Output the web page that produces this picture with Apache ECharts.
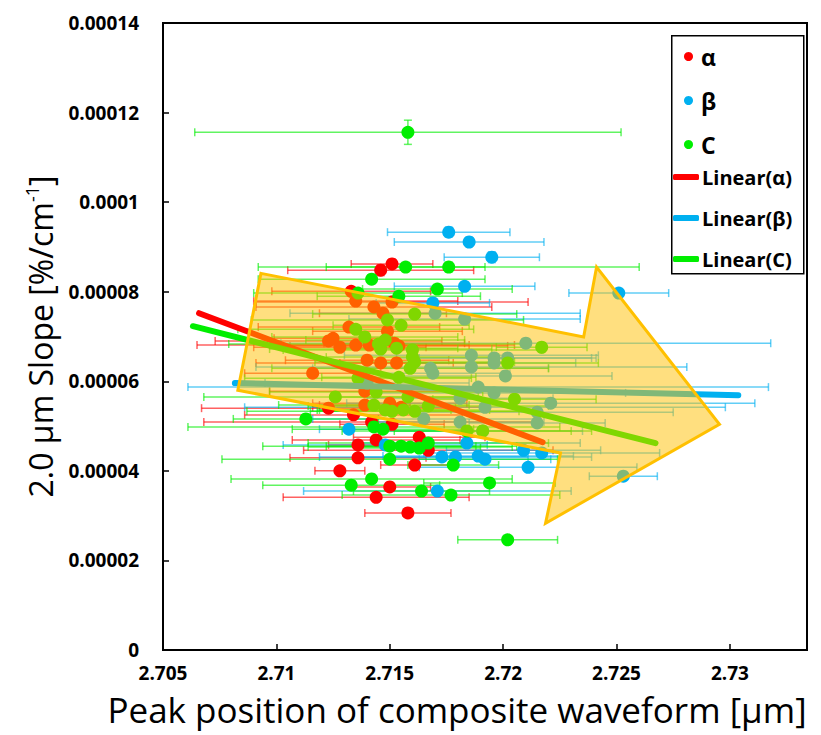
<!DOCTYPE html>
<html>
<head>
<meta charset="utf-8">
<script src="https://cdn.jsdelivr.net/npm/echarts@6/dist/echarts.min.js"></script>
<style>
  html, body { margin: 0; padding: 0; background: #ffffff; }
  #chart { width: 821px; height: 735px; }
</style>
</head>
<body>
<div id="chart"></div>
<script>
// ---- axis ticks ----
const xTickLabels = ['2.705', '2.71', '2.715', '2.72', '2.725', '2.73'];
const yTickLabels = ['0', '0.00002', '0.00004', '0.00006', '0.00008', '0.0001', '0.00012', '0.00014'];

// ---- α : peak position [μm], slope [%/cm^-1], horizontal / vertical error ----
const alphaX = [2.7146, 2.7151, 2.7133, 2.7134, 2.7123, 2.7142, 2.7151, 2.7144, 2.7163, 2.7136,
  2.7167, 2.7136, 2.7161, 2.7128, 2.7150, 2.7144, 2.7158, 2.7135, 2.7143, 2.7147,
  2.7151, 2.7132, 2.7149, 2.7123, 2.7125, 2.7128, 2.7135, 2.7141, 2.7152, 2.7154,
  2.7140, 2.7146, 2.7153, 2.7116, 2.7139, 2.7139, 2.7150, 2.7155];
const alphaY = [8.48e-5, 8.62e-5, 8.01e-5, 5.25e-5, 5.40e-5, 5.09e-5, 5.04e-5, 4.69e-5, 4.75e-5, 4.58e-5,
  4.46e-5, 4.29e-5, 4.13e-5, 4.00e-5, 3.64e-5, 3.41e-5, 3.06e-5, 7.79e-5, 7.66e-5, 7.52e-5,
  7.77e-5, 7.21e-5, 7.12e-5, 6.90e-5, 6.96e-5, 6.76e-5, 6.81e-5, 6.81e-5, 6.85e-5, 6.79e-5,
  6.47e-5, 6.41e-5, 6.41e-5, 6.18e-5, 5.78e-5, 5.47e-5, 5.51e-5, 5.42e-5];
const alphaXErr = [0.0041, 0.0018, 0.0035, 0.0048, 0.0056, 0.0074, 0.0023, 0.0037, 0.0029, 0.0013,
  0.0055, 0.0030, 0.0015, 0.0011, 0.0018, 0.0041, 0.0019, 0.0045, 0.0052, 0.0028,
  0.0060, 0.0040, 0.0033, 0.0050, 0.0026, 0.0038, 0.0070, 0.0044, 0.0031, 0.0048,
  0.0036, 0.0055, 0.0025, 0.0030, 0.0042, 0.0020, 0.0034, 0.0039];
const alphaYErr = [1.2e-6, 1.0e-6, 1.0e-6, 0.9e-6, 0.8e-6, 0.9e-6, 1.0e-6, 0.8e-6, 0.9e-6, 0.8e-6,
  0.9e-6, 0.8e-6, 0.9e-6, 0.8e-6, 0.8e-6, 0.9e-6, 0.8e-6, 1.0e-6, 0.9e-6, 0.9e-6,
  1.0e-6, 0.9e-6, 0.9e-6, 0.8e-6, 0.8e-6, 0.9e-6, 0.8e-6, 0.8e-6, 0.9e-6, 0.8e-6,
  0.9e-6, 0.8e-6, 0.8e-6, 0.8e-6, 0.9e-6, 0.8e-6, 0.8e-6, 0.8e-6];

// ---- β ----
const betaX = [2.7176, 2.7185, 2.7195, 2.7183, 2.7169, 2.7251, 2.7132, 2.7148, 2.7184, 2.7173,
  2.7179, 2.7189, 2.7192, 2.7209, 2.7217, 2.7211, 2.7171, 2.7253, 2.7170, 2.7183,
  2.7210, 2.7186, 2.7196, 2.7196, 2.7202, 2.7186, 2.7201, 2.7168, 2.7169, 2.7189,
  2.7140, 2.7196, 2.7181, 2.7221, 2.7192, 2.7215, 2.7165, 2.7181, 2.7215, 2.7191];
const betaY = [9.33e-5, 9.11e-5, 8.77e-5, 8.12e-5, 7.75e-5, 7.97e-5, 4.93e-5, 4.58e-5, 4.62e-5, 4.31e-5,
  4.31e-5, 4.33e-5, 4.26e-5, 4.46e-5, 4.40e-5, 4.08e-5, 3.55e-5, 3.88e-5, 7.52e-5, 7.39e-5,
  6.85e-5, 6.58e-5, 6.52e-5, 6.41e-5, 6.52e-5, 6.32e-5, 6.12e-5, 6.29e-5, 6.18e-5, 5.87e-5,
  5.96e-5, 5.74e-5, 5.62e-5, 5.51e-5, 5.42e-5, 5.31e-5, 5.16e-5, 5.09e-5, 5.07e-5, 4.89e-5];
const betaXErr = [0.0027, 0.0033, 0.0021, 0.0031, 0.0025, 0.0022, 0.0013, 0.0045, 0.0050, 0.0038,
  0.0060, 0.0042, 0.0029, 0.0034, 0.0052, 0.0048, 0.0059, 0.0015, 0.0064, 0.0051,
  0.0108, 0.0056, 0.0043, 0.0036, 0.0039, 0.0095, 0.0047, 0.0052, 0.0034, 0.0128,
  0.0045, 0.0058, 0.0041, 0.0090, 0.0106, 0.0060, 0.0049, 0.0037, 0.0030, 0.0044];
const betaYErr = [1.1e-6, 1.0e-6, 1.2e-6, 1.0e-6, 0.9e-6, 1.0e-6, 0.8e-6, 0.8e-6, 0.9e-6, 0.8e-6,
  0.8e-6, 0.8e-6, 0.8e-6, 0.9e-6, 0.8e-6, 0.8e-6, 0.8e-6, 0.8e-6, 1.0e-6, 1.1e-6,
  1.0e-6, 0.9e-6, 0.9e-6, 0.9e-6, 0.9e-6, 0.8e-6, 1.0e-6, 0.9e-6, 0.9e-6, 0.9e-6,
  0.9e-6, 0.9e-6, 0.9e-6, 0.9e-6, 0.8e-6, 0.9e-6, 0.8e-6, 0.9e-6, 1.0e-6, 0.8e-6];

// ---- C ----
const cX = [2.7158, 2.7157, 2.7176, 2.7142, 2.7171, 2.7136, 2.7154, 2.7113, 2.7143, 2.7147,
  2.7150, 2.7155, 2.7159, 2.7163, 2.7167, 2.7150, 2.7178, 2.7142, 2.7194, 2.7133,
  2.7164, 2.7177, 2.7202, 2.7161, 2.7149, 2.7155, 2.7135, 2.7139, 2.7145, 2.7148,
  2.7146, 2.7153, 2.7160, 2.7160, 2.7161, 2.7217, 2.7202, 2.7159, 2.7136, 2.7154,
  2.7144, 2.7126, 2.7158, 2.7205, 2.7143, 2.7167, 2.7148, 2.7151, 2.7156, 2.7161,
  2.7184, 2.7191];
const cY = [11.56e-5, 8.55e-5, 8.55e-5, 8.28e-5, 8.06e-5, 7.97e-5, 7.90e-5, 5.16e-5, 4.98e-5, 4.93e-5,
  4.55e-5, 4.55e-5, 4.53e-5, 4.51e-5, 4.62e-5, 4.26e-5, 4.13e-5, 3.82e-5, 3.73e-5, 3.68e-5,
  3.55e-5, 3.46e-5, 2.46e-5, 7.50e-5, 7.37e-5, 7.25e-5, 7.16e-5, 6.99e-5, 6.83e-5, 6.92e-5,
  6.72e-5, 6.74e-5, 6.70e-5, 6.54e-5, 6.43e-5, 6.76e-5, 6.41e-5, 6.29e-5, 6.07e-5, 6.09e-5,
  5.76e-5, 5.65e-5, 5.65e-5, 5.60e-5, 5.47e-5, 5.45e-5, 5.36e-5, 5.33e-5, 5.36e-5, 5.33e-5,
  4.89e-5, 4.89e-5];
const cXErr = [0.0094, 0.0035, 0.0084, 0.0050, 0.0033, 0.0046, 0.0036, 0.0032, 0.0082, 0.0040,
  0.0056, 0.0033, 0.0045, 0.0027, 0.0053, 0.0074, 0.0020, 0.0062, 0.0029, 0.0039,
  0.0030, 0.0048, 0.0022, 0.0045, 0.0060, 0.0030, 0.0052, 0.0041, 0.0066, 0.0035,
  0.0049, 0.0027, 0.0057, 0.0038, 0.0044, 0.0020, 0.0040, 0.0061, 0.0050, 0.0034,
  0.0047, 0.0058, 0.0031, 0.0036, 0.0042, 0.0053, 0.0029, 0.0064, 0.0038, 0.0046,
  0.0055, 0.0039];
const cYErr = [2.7e-6, 1.0e-6, 1.1e-6, 1.0e-6, 1.0e-6, 0.9e-6, 0.9e-6, 0.8e-6, 0.9e-6, 0.9e-6,
  0.8e-6, 0.8e-6, 0.8e-6, 0.8e-6, 1.1e-6, 0.8e-6, 0.9e-6, 0.8e-6, 0.9e-6, 1.0e-6,
  0.9e-6, 1.0e-6, 0.9e-6, 0.9e-6, 0.9e-6, 0.9e-6, 0.9e-6, 0.9e-6, 0.9e-6, 0.9e-6,
  0.9e-6, 0.9e-6, 0.9e-6, 0.9e-6, 0.9e-6, 1.0e-6, 0.9e-6, 0.9e-6, 0.9e-6, 0.9e-6,
  0.9e-6, 0.9e-6, 0.9e-6, 0.9e-6, 0.9e-6, 0.9e-6, 0.9e-6, 0.9e-6, 0.9e-6, 0.9e-6,
  0.9e-6, 0.9e-6];

// ---- least-squares trend lines (end points) ----
const linAlphaX = [2.70659, 2.72174];
const linAlphaY = [7.52e-5, 4.64e-5];
const linBetaX = [2.70817, 2.73037];
const linBetaY = [5.96e-5, 5.69e-5];
const linCX = [2.70632, 2.72672];
const linCY = [7.23e-5, 4.62e-5];

// ---- highlight arrow outline (data coordinates) ----
const arrowX = [2.70932, 2.72355, 2.72412, 2.72954, 2.72187, 2.72253, 2.70830];
const arrowY = [8.41e-5, 6.99e-5, 8.55e-5, 5.04e-5, 2.83e-5, 4.40e-5, 5.80e-5];

const X_MIN = 2.705, X_STEP = 0.005, X_MAX = 2.7334;
const Y_MIN = 0, Y_STEP = 0.00002, Y_MAX = 0.00014;

const RED = '#ff0000', BLUE = '#00b0f0', GREEN = '#00ee00';
const FONT = "'Open Sans', 'Noto Sans', sans-serif";

function pairs(xs, ys) { return xs.map((x, i) => [x, ys[i]]); }

function errorBars(name, xs, ys, xe, ye, color) {
  return {
    type: 'custom', name: name, silent: true, z: 2,
    data: xs.map((x, i) => [x, ys[i], xe[i], ye[i]]),
    encode: { x: 0, y: 1 },
    renderItem: function (params, api) {
      const x = api.value(0), y = api.value(1), dx = api.value(2), dy = api.value(3);
      const l = api.coord([x - dx, y]), r = api.coord([x + dx, y]);
      const t = api.coord([x, y + dy]), b = api.coord([x, y - dy]);
      const cap = 4;
      const st = () => ({ stroke: color, lineWidth: 1.5, opacity: 0.62 });
      return {
        type: 'group',
        children: [
          { type: 'line', shape: { x1: l[0], y1: l[1], x2: r[0], y2: r[1] }, style: st() },
          { type: 'line', shape: { x1: l[0], y1: l[1] - cap, x2: l[0], y2: l[1] + cap }, style: st() },
          { type: 'line', shape: { x1: r[0], y1: r[1] - cap, x2: r[0], y2: r[1] + cap }, style: st() },
          { type: 'line', shape: { x1: t[0], y1: t[1], x2: b[0], y2: b[1] }, style: st() },
          { type: 'line', shape: { x1: t[0] - cap, y1: t[1], x2: t[0] + cap, y2: t[1] }, style: st() },
          { type: 'line', shape: { x1: b[0] - cap, y1: b[1], x2: b[0] + cap, y2: b[1] }, style: st() }
        ]
      };
    }
  };
}

function points(name, xs, ys, color) {
  return {
    type: 'scatter', name: name, z: 3, symbol: 'circle', symbolSize: 13,
    itemStyle: { color: color, opacity: 1 },
    data: pairs(xs, ys)
  };
}

function trend(name, xs, ys, color) {
  return {
    type: 'line', name: name, z: 5, symbol: 'none', showSymbol: false,
    lineStyle: { color: color, width: 6, cap: 'round' },
    itemStyle: { color: color },
    data: pairs(xs, ys)
  };
}

const chart = echarts.init(document.getElementById('chart'), null, { renderer: 'svg' });

chart.setOption({
  animation: false,
  backgroundColor: '#ffffff',
  grid: { left: 163, right: 14, top: 23, bottom: 85, show: true, borderColor: '#000', borderWidth: 2 },
  xAxis: {
    type: 'value', min: X_MIN, max: X_MAX, interval: X_STEP,
    name: 'Peak position of composite waveform [μm]',
    nameLocation: 'middle', nameGap: 42,
    nameTextStyle: { fontFamily: FONT, fontSize: 35, color: '#000', padding: [0, 56, 0, 0] },
    axisLine: { lineStyle: { color: '#000', width: 2 } },
    axisTick: { inside: true, length: 6, lineStyle: { color: '#000', width: 1.5 } },
    splitLine: { show: false },
    axisLabel: {
      showMaxLabel: false, margin: 13, color: '#000', fontFamily: FONT, fontWeight: 'bold', fontSize: 19,
      formatter: v => xTickLabels[Math.round((v - X_MIN) / X_STEP)] || ''
    }
  },
  yAxis: {
    type: 'value', min: Y_MIN, max: Y_MAX, interval: Y_STEP,
    name: '2.0 μm Slope [%/cm{sup|-1}]',
    nameLocation: 'middle', nameGap: 106,
    nameTextStyle: {
      fontFamily: FONT, fontSize: 32, color: '#000',
      rich: { sup: { fontFamily: FONT, fontSize: 18, color: '#000', verticalAlign: 'top', padding: [0, 0, 16, 0] } }
    },
    axisLine: { lineStyle: { color: '#000', width: 2 } },
    axisTick: { inside: true, length: 6, lineStyle: { color: '#000', width: 1.5 } },
    splitLine: { show: false },
    axisLabel: {
      margin: 24, color: '#000', fontFamily: FONT, fontWeight: 'bold', fontSize: 19,
      formatter: v => yTickLabels[Math.round(v / Y_STEP)] || ''
    }
  },
  legend: [
    {
      orient: 'vertical', left: 684, top: 45, padding: 0,
      itemWidth: 9, itemHeight: 9, itemGap: 21, icon: 'circle', selectedMode: false,
      data: ['α', 'β', 'C'],
      textStyle: { fontFamily: FONT, fontWeight: 'bold', fontSize: 23, lineHeight: 20, color: '#000', padding: [0, 0, 0, 3] }
    },
    {
      orient: 'vertical', left: 673, top: 167, padding: 0,
      itemWidth: 26, itemHeight: 6, itemGap: 21, icon: 'roundRect', selectedMode: false,
      data: ['Linear(α)', 'Linear(β)', 'Linear(C)'],
      textStyle: { fontFamily: FONT, fontWeight: 'bold', fontSize: 20, lineHeight: 20, color: '#000', padding: [0, 0, 0, -2] }
    }
  ],
  graphic: [
    {
      type: 'rect', left: 671, top: 35, z: -1,
      shape: { width: 132, height: 238 },
      style: { fill: '#ffffff', stroke: '#000', lineWidth: 1.5 }
    }
  ],
  series: [
    errorBars('α error', alphaX, alphaY, alphaXErr, alphaYErr, RED),
    errorBars('β error', betaX, betaY, betaXErr, betaYErr, BLUE),
    errorBars('C error', cX, cY, cXErr, cYErr, GREEN),
    points('α', alphaX, alphaY, RED),
    points('β', betaX, betaY, BLUE),
    points('C', cX, cY, GREEN),
    trend('Linear(α)', linAlphaX, linAlphaY, RED),
    trend('Linear(β)', linBetaX, linBetaY, BLUE),
    trend('Linear(C)', linCX, linCY, GREEN),
    {
      type: 'custom', name: 'arrow', silent: true, z: 10,
      data: pairs(arrowX, arrowY),
      encode: { x: 0, y: 1 },
      renderItem: function (params, api) {
        if (params.dataIndex !== 0) return;
        const pts = arrowX.map((x, i) => api.coord([x, arrowY[i]]));
        return {
          type: 'polygon',
          shape: { points: pts },
          style: { fill: 'rgba(255,192,0,0.5)', stroke: '#ffc000', lineWidth: 3, lineJoin: 'miter' }
        };
      }
    }
  ]
});
</script>
</body>
</html>
